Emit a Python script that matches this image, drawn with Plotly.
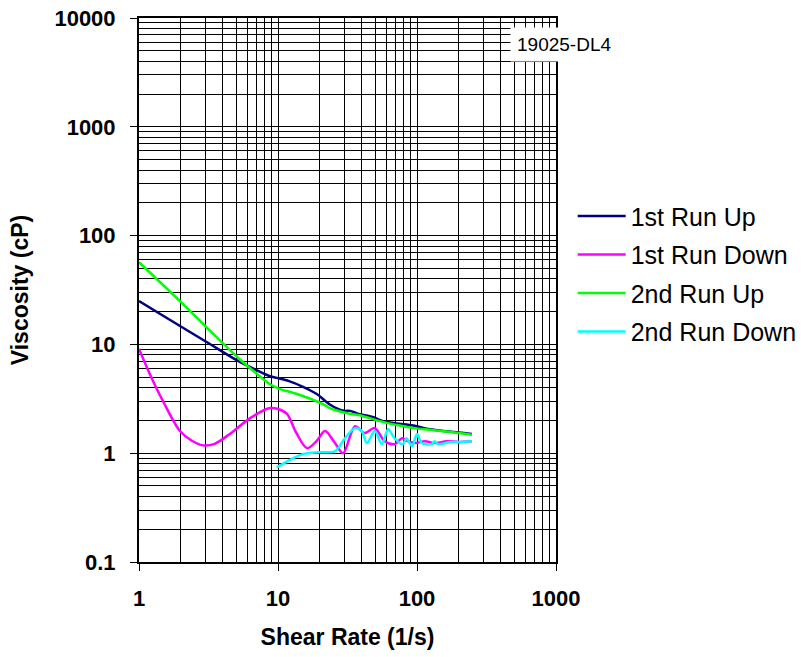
import plotly.graph_objects as go

# ---- data ----
x_run1_up = [1, 2, 3, 5, 7, 8.75, 10, 12, 15, 19, 23.6, 27, 30, 33, 38, 48, 57, 71, 94, 124, 164, 200, 248]
y_run1_up = [25, 14.6, 10.7, 7.2, 5.8, 5.1, 4.9, 4.6, 4.1, 3.5, 2.8, 2.55, 2.45, 2.45, 2.3, 2.15, 1.97, 1.88, 1.8, 1.66, 1.59, 1.55, 1.5]

x_run1_down = [1, 1.2, 1.49, 1.97, 2.4, 2.89, 3.5, 4.5, 6.3, 8.75, 10, 11.6, 13.5, 16.2, 19, 21.8, 25.7,
               29.4, 35.8, 42, 49.6, 58.6, 69, 78, 86, 97, 114, 134, 164, 200, 248]
y_run1_down = [9.1, 5.3, 3.0, 1.6, 1.3, 1.18, 1.22, 1.5, 2.1, 2.6, 2.55, 2.3, 1.55, 1.11, 1.3, 1.6, 1.24,
               1.0, 1.77, 1.53, 1.7, 1.29, 1.21, 1.37, 1.29, 1.24, 1.29, 1.24, 1.29, 1.27, 1.29]

x_run2_up = [1, 1.97, 3.09, 5.3, 7, 8.75, 10, 13.7, 21, 23.6, 31, 41, 54, 71, 94, 124, 164, 248]
y_run2_up = [57, 25, 14.2, 7.3, 5.4, 4.3, 3.95, 3.5, 2.83, 2.6, 2.34, 2.19, 1.97, 1.82, 1.7, 1.64, 1.58, 1.48]

x_run2_down = [9.8, 12, 15.1, 20, 25.7, 30.3, 35.8, 40, 43.6, 49.6, 56, 62, 69, 79, 84, 92, 100, 108,
               128, 134, 142, 170, 200, 248]
y_run2_down = [0.74, 0.86, 0.98, 1.02, 1.04, 1.37, 1.7, 1.6, 1.24, 1.6, 1.21, 1.66, 1.37, 1.21, 1.37, 1.16,
               1.5, 1.24, 1.21, 1.29, 1.21, 1.26, 1.27, 1.29]

series_names = ["1st Run Up", "1st Run Down", "2nd Run Up", "2nd Run Down"]
series_colors = ["#000080", "#FF00FF", "#00FF00", "#00FFFF"]
series_x = [x_run1_up, x_run1_down, x_run2_up, x_run2_down]
series_y = [y_run1_up, y_run1_down, y_run2_up, y_run2_down]

x_tickvals = [1, 10, 100, 1000]
x_ticktext = ["1", "10", "100", "1000"]
y_tickvals = [0.1, 1, 10, 100, 1000, 10000]
y_ticktext = ["0.1", "1", "10", "100", "1000", "10000"]

fig = go.Figure()
for name, color, xs, ys in zip(series_names, series_colors, series_x, series_y):
    fig.add_trace(go.Scatter(
        x=xs, y=ys, name=name, mode="lines", legendgroup=name,
        line=dict(color=color, width=2.5, shape="spline", smoothing=0.9),
    ))

font_family = "Liberation Sans, Arial, sans-serif"

axis_common = dict(
    type="log",
    showline=True, linecolor="black", linewidth=2, mirror=True,
    showgrid=True, gridcolor="black", gridwidth=1,
    minor=dict(showgrid=True, gridcolor="black", gridwidth=1, ticks="", dtick="D1"),
    ticks="outside", ticklen=7, tickcolor="black", tickwidth=1,
    tickfont=dict(family=font_family, size=22, color="black", weight="bold"),
    zeroline=False,
)

fig.update_xaxes(
    **axis_common,
    range=[0, 3], tickvals=x_tickvals, ticktext=x_ticktext,
    ticklabelstandoff=9,
    title=dict(text="Shear Rate (1/s)", standoff=18,
               font=dict(family=font_family, size=23, color="black", weight="bold")),
)
fig.update_yaxes(
    **axis_common,
    range=[-1, 4], tickvals=y_tickvals, ticktext=y_ticktext,
    ticklabelstandoff=10,
    title=dict(text="Viscosity (cP)", standoff=19,
               font=dict(family=font_family, size=23, color="black", weight="bold")),
)

fig.add_annotation(
    x=0.89, y=0.952, xref="paper", yref="paper", xanchor="left", yanchor="middle",
    text="19025-DL4", showarrow=False, bgcolor="white", borderpad=6,
    font=dict(family=font_family, size=19, color="black"),
)

fig.update_layout(
    width=801, height=657,
    margin=dict(l=139, r=245, t=18, b=95, autoexpand=False),
    paper_bgcolor="white", plot_bgcolor="white",
    showlegend=True,
    legend=dict(
        x=1.04, y=0.678, xanchor="left", yanchor="top",
        font=dict(family=font_family, size=25, color="black"),
        traceorder="grouped", tracegroupgap=3,
        bgcolor="rgba(0,0,0,0)", itemwidth=48,
    ),
)

fig.write_html("out.html")
